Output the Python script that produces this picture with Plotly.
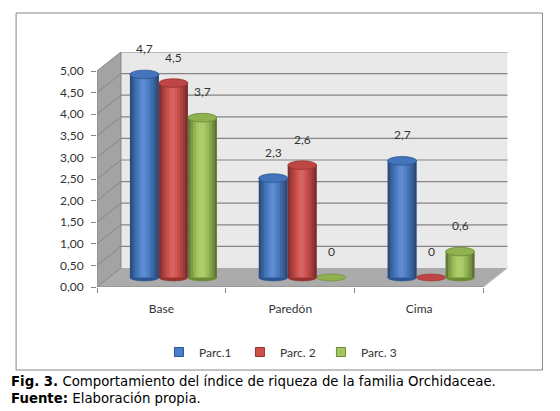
import plotly.graph_objects as go

# ---------------- data ----------------
categories = ["Base", "Paredón", "Cima"]
series_names = ["Parc.1", "Parc. 2", "Parc. 3"]
parc1 = [4.7, 2.3, 2.7]
parc2 = [4.5, 2.6, 0.0]
parc3 = [3.7, 0.0, 0.6]
y_tick_values = [0, 0.5, 1, 1.5, 2, 2.5, 3, 3.5, 4, 4.5, 5]
caption_line1 = "<b>Fig. 3.</b> Comportamiento del índice de riqueza de la familia Orchidaceae."
caption_line2 = "<b>Fuente:</b> Elaboración propia."

series_values = [parc1, parc2, parc3]

# ---------------- style / geometry ----------------
OFF = 8                                      # page body margin
W, H = 560 - OFF, 411 - OFF
PL, PR, PT, PB = 97 - OFF, 508.5 - OFF, 52 - OFF, 287 - OFF   # plot area in pixels
X0, X1 = -0.5, 2.69                          # x range (category units)
YMAX = 5.44                                  # y range top (value units)
DX, DY = 0.186, 0.44                         # depth of the 3-D box
BW = 0.225                                   # cylinder width
EH = 0.2                                     # ellipse height (value units)

body = ["#4A7EC8", "#D0504E", "#A2C65C"]
topc = ["#4374BC", "#BE4644", "#8FB24E"]
dark = ["#2C5592", "#963230", "#6A8A34"]
shade = [0.38, 0.22, 0.10, 0.0, -0.10, -0.12, -0.05, 0.05, 0.16, 0.28, 0.42]

FONT = "Lato"


def px2paper_x(px):
    return (px - OFF - PL) / (PR - PL)


def px2paper_y(py):
    return (PB - (py - OFF)) / (PB - PT)


fig = go.Figure()

shapes = []
# left side wall
shapes.append(dict(type="path", xref="x", yref="y",
                   path=f"M{X0},0 L{X0+DX},{DY} L{X0+DX},{5+DY} L{X0},5 Z",
                   fillcolor="#A3A3A3", line=dict(width=0), layer="below"))
# back wall
shapes.append(dict(type="rect", xref="x", yref="y", x0=X0 + DX, x1=2.5 + DX, y0=DY, y1=5 + DY,
                   fillcolor="#E9E9E9", line=dict(width=0), layer="below"))
# floor
shapes.append(dict(type="path", xref="x", yref="y",
                   path=f"M{X0},0 L2.5,0 L{2.5+DX},{DY} L{X0+DX},{DY} Z",
                   fillcolor="#ABABAB", line=dict(width=0), layer="below"))
# gridlines on back and side wall
for v in y_tick_values:
    if v > 0:
        shapes.append(dict(type="line", xref="x", yref="y", x0=X0 + DX, x1=2.5 + DX,
                           y0=v + DY, y1=v + DY, line=dict(color="#858585", width=1.2), layer="below"))
    shapes.append(dict(type="line", xref="x", yref="y", x0=X0, x1=X0 + DX,
                       y0=v, y1=v + DY, line=dict(color="#858585", width=1), layer="below"))
# floor edges
shapes.append(dict(type="line", xref="x", yref="y", x0=2.5, x1=2.5 + DX, y0=0, y1=DY,
                   line=dict(color="#C8C8C8", width=1), layer="below"))
shapes.append(dict(type="line", xref="x", yref="y", x0=X0 + DX, x1=X0 + DX, y0=DY, y1=5 + DY,
                   line=dict(color="#858585", width=1), layer="below"))
# front axis lines
shapes.append(dict(type="line", xref="x", yref="y", x0=X0, x1=X0, y0=0, y1=5,
                   line=dict(color="#868686", width=1)))
shapes.append(dict(type="line", xref="x", yref="y", x0=X0, x1=2.5, y0=0, y1=0,
                   line=dict(color="#868686", width=1)))

# bars (cylinders) on the mid-depth axes
offsets = [-1.5 * BW + s * BW for s in range(3)]
NS = len(shade)
annotations = []
for s, vals in enumerate(series_values):
    fig.add_trace(go.Bar(x=categories, y=vals, base=0, width=BW, offset=offsets[s],
                         marker=dict(color=body[s], line=dict(width=0)),
                         xaxis="x2", yaxis="y2", showlegend=False, hoverinfo="skip"))
    for k, a in enumerate(shade):
        col = f"rgba(0,0,0,{a})" if a >= 0 else f"rgba(255,255,255,{-a})"
        fig.add_trace(go.Bar(x=categories, y=vals, base=0, width=BW / NS,
                             offset=offsets[s] + k * BW / NS,
                             marker=dict(color=col, line=dict(width=0)),
                             xaxis="x2", yaxis="y2", showlegend=False, hoverinfo="skip"))
    for i, v in enumerate(vals):
        cx = i + offsets[s] + BW / 2
        # bottom ellipse
        shapes.append(dict(type="circle", xref="x2", yref="y2",
                           x0=cx - BW / 2, x1=cx + BW / 2, y0=-EH / 2 * 0.8, y1=EH / 2 * 0.8,
                           fillcolor=dark[s] if v > 0 else topc[s],
                           line=dict(width=0.6, color=dark[s]), layer="below"))
        if v > 0:
            shapes.append(dict(type="circle", xref="x2", yref="y2",
                               x0=cx - BW / 2, x1=cx + BW / 2, y0=v - EH / 2, y1=v + EH / 2,
                               fillcolor=topc[s], line=dict(width=0.8, color=dark[s])))
        txt = "0" if v == 0 else f"{v:.1f}".replace(".", ",")
        annotations.append(dict(xref="x2", yref="y2", x=cx, y=v, yshift=26, text=txt,
                                showarrow=False, font=dict(family=FONT, size=12, color="#333333")))
    # legend proxy
    fig.add_trace(go.Scatter(x=[None], y=[None], mode="markers", name=series_names[s],
                             marker=dict(symbol="square", size=9, color=body[s],
                                         line=dict(color=dark[s], width=1))))

# chart border
shapes.append(dict(type="rect", xref="paper", yref="paper",
                   x0=px2paper_x(16), x1=px2paper_x(543), y0=px2paper_y(370), y1=px2paper_y(13),
                   line=dict(color="#868686", width=1), fillcolor="rgba(0,0,0,0)"))

# caption
annotations.append(dict(xref="paper", yref="paper", x=px2paper_x(9), y=px2paper_y(381),
                        xanchor="left", yanchor="middle", text=caption_line1, showarrow=False,
                        font=dict(family="DejaVu Sans", size=13.3, color="#000000")))
annotations.append(dict(xref="paper", yref="paper", x=px2paper_x(9), y=px2paper_y(398),
                        xanchor="left", yanchor="middle", text=caption_line2, showarrow=False,
                        font=dict(family="DejaVu Sans", size=13.3, color="#000000")))

fig.update_layout(
    width=W, height=H,
    margin=dict(l=PL, r=W - PR, t=PT, b=H - PB, pad=0),
    paper_bgcolor="white", plot_bgcolor="rgba(0,0,0,0)",
    separators=", ",
    barmode="overlay",
    font=dict(family=FONT, size=12, color="#333333"),
    xaxis=dict(type="category", categoryorder="array", categoryarray=categories,
               range=[X0, X1], showgrid=False, zeroline=False, showline=False,
               ticks="outside", tickson="boundaries", ticklen=5, tickcolor="#868686",
               ticklabelstandoff=13, tickfont=dict(family=FONT, size=12, color="#333333")),
    yaxis=dict(range=[0, YMAX], tickvals=y_tick_values, tickformat=".2f",
               showgrid=False, zeroline=False, showline=False,
               ticks="outside", ticklen=5, tickcolor="#868686", ticklabelstandoff=5,
               tickfont=dict(family=FONT, size=12, color="#333333")),
    xaxis2=dict(type="category", categoryorder="array", categoryarray=categories,
                range=[X0 - DX / 2, X1 - DX / 2], overlaying="x", visible=False),
    yaxis2=dict(range=[-DY / 2, YMAX - DY / 2], overlaying="y", visible=False),
    legend=dict(orientation="h", x=px2paper_x(159), y=px2paper_y(352), xanchor="left",
                yanchor="middle", font=dict(family=FONT, size=12, color="#333333"),
                entrywidth=36, itemwidth=30, bgcolor="rgba(0,0,0,0)"),
    shapes=shapes,
    annotations=annotations,
)

fig.write_html("out.html")
